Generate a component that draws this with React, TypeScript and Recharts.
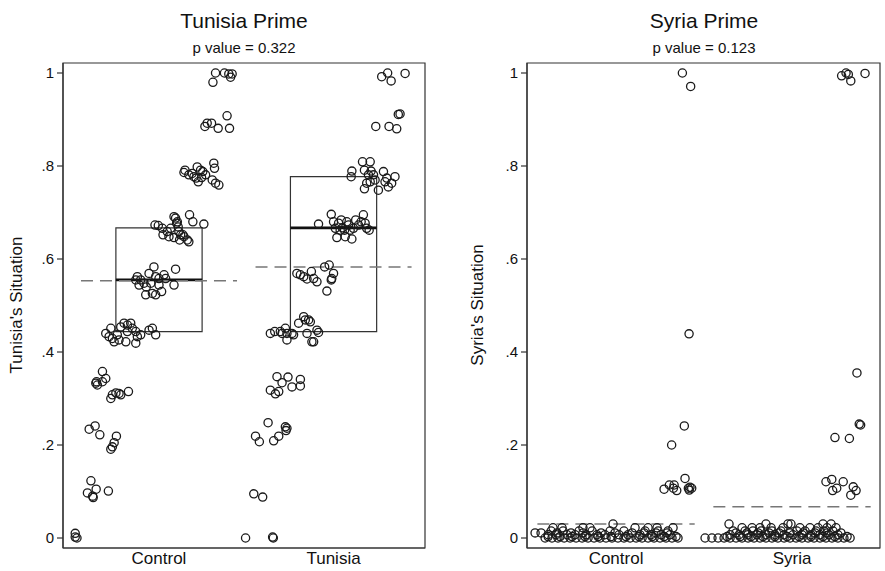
import React from 'react';
import { ScatterChart, Scatter, XAxis, YAxis, ReferenceArea, ReferenceLine } from 'recharts';

// ---------- Tunisia Prime panel ----------
const tunisiaGroups = ['Control', 'Tunisia'];
const tunisiaPValue = '0.322';
// [jitter, value]
const tunisiaControl: [number, number][] = [
  [-0.48, 0.010], [-0.48, 0.002], [-0.47, 0.0],
  [-0.41, 0.097], [-0.39, 0.123], [-0.36, 0.105], [-0.38, 0.090], [-0.377, 0.087], [-0.29, 0.101],
  [-0.40, 0.234], [-0.366, 0.241], [-0.339, 0.222], [-0.276, 0.191], [-0.257, 0.205], [-0.244, 0.219], [-0.267, 0.196],
  [-0.362, 0.333], [-0.353, 0.329], [-0.324, 0.358], [-0.305, 0.343], [-0.324, 0.336], [-0.267, 0.308], [-0.276, 0.300],
  [-0.247, 0.312], [-0.229, 0.311], [-0.219, 0.308], [-0.175, 0.315], [-0.358, 0.336],
  [-0.305, 0.440], [-0.286, 0.433], [-0.276, 0.451], [-0.257, 0.422], [-0.229, 0.426], [-0.200, 0.462], [-0.181, 0.458],
  [-0.162, 0.462], [-0.153, 0.451], [-0.133, 0.444], [-0.105, 0.437], [-0.057, 0.447], [-0.038, 0.451], [-0.019, 0.437],
  [-0.190, 0.422], [-0.133, 0.419], [-0.219, 0.454], [-0.181, 0.444], [-0.239, 0.437], [-0.267, 0.429], [-0.124, 0.433],
  [-0.124, 0.562], [-0.105, 0.555], [-0.086, 0.548], [-0.073, 0.540], [-0.057, 0.569], [-0.029, 0.583], [-0.019, 0.562],
  [0.0, 0.558], [0.029, 0.566], [0.095, 0.578], [0.086, 0.544], [-0.076, 0.523], [-0.038, 0.526], [-0.019, 0.523],
  [0.015, 0.530], [-0.114, 0.544], [-0.047, 0.548], [0.0, 0.544], [0.038, 0.558], [-0.133, 0.555],
  [-0.023, 0.673], [-0.004, 0.672], [0.019, 0.666], [0.047, 0.659], [0.067, 0.666], [0.086, 0.691], [0.095, 0.688],
  [0.105, 0.680], [0.110, 0.669], [0.114, 0.659], [0.124, 0.652], [0.143, 0.648], [0.162, 0.641], [0.171, 0.637],
  [0.175, 0.695], [0.194, 0.680], [0.257, 0.675], [0.057, 0.648], [0.086, 0.646], [0.118, 0.641], [0.137, 0.652],
  [0.023, 0.652], [0.101, 0.677],
  [0.149, 0.791], [0.143, 0.786], [0.190, 0.784], [0.219, 0.798], [0.238, 0.791], [0.251, 0.788], [0.267, 0.781],
  [0.314, 0.806], [0.318, 0.795], [0.305, 0.770], [0.324, 0.763], [0.343, 0.759], [0.213, 0.774], [0.225, 0.766],
  [0.200, 0.777], [0.171, 0.781], [0.244, 0.775],
  [0.263, 0.885], [0.276, 0.892], [0.301, 0.892], [0.339, 0.881], [0.390, 0.908], [0.404, 0.881],
  [0.324, 1.0], [0.375, 1.0], [0.400, 0.998], [0.419, 0.998], [0.410, 0.991], [0.309, 0.980],
];
const tunisiaTreat: [number, number][] = [
  [-0.504, 0.0], [-0.349, 0.002], [-0.345, 0.0],
  [-0.457, 0.095], [-0.406, 0.088],
  [-0.375, 0.248], [-0.447, 0.219], [-0.425, 0.207], [-0.343, 0.209], [-0.314, 0.219], [-0.276, 0.239], [-0.272, 0.231], [-0.267, 0.236],
  [-0.324, 0.347], [-0.295, 0.334], [-0.261, 0.346], [-0.238, 0.325], [-0.190, 0.341], [-0.190, 0.327], [-0.362, 0.318],
  [-0.333, 0.310], [-0.314, 0.315],
  [-0.362, 0.440], [-0.337, 0.444], [-0.305, 0.444], [-0.276, 0.451], [-0.267, 0.440], [-0.267, 0.426], [-0.238, 0.440],
  [-0.200, 0.462], [-0.171, 0.476], [-0.162, 0.469], [-0.143, 0.469], [-0.133, 0.465], [-0.152, 0.440], [-0.124, 0.422],
  [-0.114, 0.422], [-0.095, 0.447], [-0.086, 0.442], [-0.229, 0.437], [-0.295, 0.440],
  [-0.210, 0.569], [-0.190, 0.566], [-0.171, 0.562], [-0.152, 0.557], [-0.127, 0.573], [-0.114, 0.558], [-0.095, 0.551],
  [-0.051, 0.583], [-0.025, 0.587], [-0.010, 0.558], [0.0, 0.569], [-0.013, 0.555], [-0.038, 0.531],
  [-0.086, 0.675], [-0.013, 0.696], [0.0, 0.680], [0.010, 0.666], [0.019, 0.646], [0.029, 0.677], [0.044, 0.684],
  [0.051, 0.667], [0.067, 0.648], [0.076, 0.680], [0.086, 0.673], [0.105, 0.643], [0.114, 0.666], [0.127, 0.684],
  [0.143, 0.673], [0.158, 0.680], [0.171, 0.695], [0.181, 0.677], [0.190, 0.666], [0.204, 0.662], [0.095, 0.662],
  [0.038, 0.662], [0.063, 0.662],
  [0.105, 0.789], [0.101, 0.777], [0.166, 0.809], [0.177, 0.791], [0.210, 0.809], [0.215, 0.789], [0.229, 0.781],
  [0.238, 0.770], [0.210, 0.766], [0.190, 0.763], [0.177, 0.751], [0.257, 0.748], [0.286, 0.788], [0.305, 0.774],
  [0.314, 0.755], [0.333, 0.763], [0.352, 0.777], [0.295, 0.766], [0.200, 0.781],
  [0.371, 0.911], [0.381, 0.912], [0.242, 0.885], [0.318, 0.885], [0.362, 0.880],
  [0.276, 0.992], [0.310, 1.0], [0.330, 0.983], [0.410, 0.999],
];
const tunisiaQ1 = [0.444, 0.444];
const tunisiaMedian = [0.555, 0.667];
const tunisiaQ3 = [0.667, 0.777];
const tunisiaMean = [0.553, 0.583];

// ---------- Syria Prime panel ----------
const syriaGroups = ['Control', 'Syria'];
const syriaPValue = '0.123';
const syriaControl: [number, number][] = [
  [0.377, 1.0], [0.424, 0.971], [0.415, 0.439], [0.388, 0.241], [0.316, 0.200],
  [0.273, 0.105], [0.303, 0.114], [0.330, 0.114], [0.345, 0.102], [0.392, 0.128], [0.411, 0.107], [0.420, 0.109],
  [0.430, 0.107], [0.416, 0.103], [0.326, 0.107],
  [-0.403, 0], [-0.364, 0], [-0.330, 0], [-0.295, 0], [-0.261, 0], [-0.227, 0], [-0.193, 0], [-0.159, 0], [-0.125, 0],
  [-0.091, 0], [-0.057, 0], [-0.023, 0], [0.011, 0], [0.045, 0], [0.080, 0], [0.114, 0], [0.148, 0], [0.182, 0],
  [0.216, 0], [0.250, 0], [0.284, 0], [0.318, 0], [0.352, 0],
  [-0.386, 0.003], [-0.318, 0.003], [-0.250, 0.003], [-0.176, 0.003], [-0.102, 0.003], [-0.028, 0.003], [0.057, 0.003],
  [0.131, 0.003], [0.205, 0.003], [0.273, 0.003], [0.341, 0.003],
  [-0.386, 0.007], [-0.341, 0.007], [-0.278, 0.007], [-0.233, 0.007], [-0.170, 0.007], [-0.108, 0.007], [-0.063, 0.007],
  [0.017, 0.007], [0.068, 0.007], [0.136, 0.007], [0.199, 0.007], [0.256, 0.007], [0.307, 0.007],
  [-0.426, 0.011], [-0.335, 0.011], [-0.256, 0.011], [-0.188, 0.011], [-0.085, 0.011], [-0.006, 0.011], [0.091, 0.011],
  [0.159, 0.011], [0.227, 0.011], [0.290, 0.011],
  [-0.369, 0.015], [-0.301, 0.015], [-0.210, 0.015], [-0.136, 0.015], [-0.034, 0.015], [0.045, 0.015], [0.165, 0.015],
  [0.239, 0.015], [0.295, 0.015],
  [-0.358, 0.022], [-0.307, 0.022], [-0.188, 0.022], [-0.148, 0.022], [0.108, 0.022], [0.182, 0.022], [0.233, 0.022],
  [0.324, 0.022], [-0.017, 0.030], [-0.460, 0.011],
];
const syriaTreat: [number, number][] = [
  [0.282, 0.994], [0.307, 1.0], [0.320, 0.997], [0.334, 0.983], [0.415, 0.999],
  [0.369, 0.355], [0.382, 0.245], [0.390, 0.243], [0.244, 0.216], [0.326, 0.214],
  [0.193, 0.121], [0.226, 0.126], [0.254, 0.107], [0.231, 0.102], [0.291, 0.121], [0.348, 0.110], [0.364, 0.102], [0.334, 0.092],
  [-0.494, 0], [-0.455, 0], [-0.420, 0], [-0.386, 0], [-0.352, 0], [-0.318, 0], [-0.284, 0], [-0.250, 0], [-0.216, 0],
  [-0.182, 0], [-0.148, 0], [-0.114, 0], [-0.080, 0], [-0.045, 0], [-0.011, 0], [0.023, 0], [0.057, 0], [0.091, 0],
  [0.125, 0], [0.159, 0], [0.193, 0], [0.227, 0], [0.261, 0], [0.295, 0], [0.330, 0],
  [-0.369, 0.003], [-0.295, 0.003], [-0.233, 0.003], [-0.165, 0.003], [-0.097, 0.003], [-0.028, 0.003], [0.040, 0.003],
  [0.108, 0.003], [0.176, 0.003], [0.244, 0.003], [0.313, 0.003],
  [-0.352, 0.007], [-0.301, 0.007], [-0.250, 0.007], [-0.199, 0.007], [-0.148, 0.007], [-0.097, 0.007], [-0.045, 0.007],
  [0.006, 0.007], [0.057, 0.007], [0.108, 0.007], [0.159, 0.007], [0.210, 0.007], [0.261, 0.007],
  [-0.318, 0.011], [-0.256, 0.011], [-0.193, 0.011], [-0.131, 0.011], [-0.074, 0.011], [-0.011, 0.011], [0.063, 0.011],
  [0.131, 0.011], [0.199, 0.011], [0.278, 0.011],
  [-0.335, 0.015], [-0.267, 0.015], [-0.222, 0.015], [-0.176, 0.015], [-0.114, 0.015], [-0.063, 0.015], [0.028, 0.015],
  [0.074, 0.015], [0.136, 0.015], [0.182, 0.015], [0.233, 0.015],
  [-0.284, 0.022], [-0.227, 0.022], [-0.182, 0.022], [-0.119, 0.022], [-0.051, 0.022], [0.045, 0.022], [0.102, 0.022],
  [0.148, 0.022], [0.199, 0.022], [0.250, 0.022],
  [-0.358, 0.030], [-0.148, 0.030], [-0.023, 0.030], [-0.006, 0.030], [0.176, 0.030], [0.222, 0.030],
];
const syriaMean = [0.030, 0.067];

const yTicks = [0, 0.2, 0.4, 0.6, 0.8, 1];

const FONT = '"Liberation Sans", Arial, Helvetica, sans-serif';
const Y_DOMAIN: [number, number] = [-0.0215, 1.0215];
const BOX_HALF = 0.247;
const MEAN_HALF = 0.447;

const fmtY = (v: number) => (v === 0 ? '0' : v === 1 ? '1' : String(Number(v.toFixed(1))).replace(/^0/, ''));

const toPoints = (arr: [number, number][], pos: number) => arr.map(([j, v]) => ({ x: pos + j, y: v }));

const Ring = (p: any) => (
  <circle cx={p.cx} cy={p.cy} r={4.1} fill="none" stroke="#1a1a1a" strokeWidth={1.3} />
);

type PanelProps = {
  left: number;
  width: number;
  marginLeft: number;
  marginRight: number;
  xDomain: [number, number];
  groups: string[];
  control: [number, number][];
  treat: [number, number][];
  mean: number[];
  q1?: number[];
  median?: number[];
  q3?: number[];
};

function Panel(props: PanelProps) {
  const { xDomain, groups } = props;
  const pos = [1, 2];
  return (
    <div style={{ position: 'absolute', left: props.left, top: 0 }}>
      <ScatterChart
        width={props.width}
        height={571}
        margin={{ top: 63, right: props.marginRight, bottom: 0, left: props.marginLeft }}
      >
        <XAxis
          type="number"
          dataKey="x"
          domain={xDomain}
          ticks={pos}
          allowDataOverflow
          tickFormatter={(v: number) => groups[Math.round(v) - 1]}
          tickLine={false}
          tickSize={0}
          tickMargin={4}
          height={23}
          axisLine={{ stroke: '#333', strokeWidth: 1.2 }}
          tick={{ fill: '#111', fontSize: 17, fontFamily: FONT }}
        />
        <YAxis
          type="number"
          dataKey="y"
          domain={Y_DOMAIN}
          ticks={yTicks}
          allowDataOverflow
          tickFormatter={fmtY}
          width={63}
          tickSize={6}
          tickMargin={3}
          axisLine={{ stroke: '#333', strokeWidth: 1.2 }}
          tickLine={{ stroke: '#333', strokeWidth: 1.2 }}
          tick={{ fill: '#111', fontSize: 15, fontFamily: FONT }}
        />
        <ReferenceArea
          x1={xDomain[0]}
          x2={xDomain[1]}
          y1={Y_DOMAIN[0]}
          y2={Y_DOMAIN[1]}
          fill="none"
          stroke="#333"
          strokeWidth={1.2}
          ifOverflow="visible"
        />
        {props.q1 &&
          pos.map((p, i) => (
            <ReferenceArea
              key={'box' + i}
              x1={p - BOX_HALF}
              x2={p + BOX_HALF}
              y1={props.q1![i]}
              y2={props.q3![i]}
              fill="none"
              stroke="#333"
              strokeWidth={1.2}
            />
          ))}
        {props.median &&
          pos.map((p, i) => (
            <ReferenceLine
              key={'med' + i}
              segment={[
                { x: p - BOX_HALF, y: props.median![i] },
                { x: p + BOX_HALF, y: props.median![i] },
              ]}
              stroke="#111"
              strokeWidth={2.6}
            />
          ))}
        {pos.map((p, i) => (
          <ReferenceLine
            key={'mean' + i}
            segment={[
              { x: p - MEAN_HALF, y: props.mean[i] },
              { x: p + MEAN_HALF, y: props.mean[i] },
            ]}
            stroke="#777"
            strokeWidth={1.5}
            strokeDasharray="12 7"
          />
        ))}
        <Scatter data={toPoints(props.control, 1)} shape={Ring} isAnimationActive={false} />
        <Scatter data={toPoints(props.treat, 2)} shape={Ring} isAnimationActive={false} />
      </ScatterChart>
    </div>
  );
}

const titleStyle = (cx: number, top: number, size: number): React.CSSProperties => ({
  position: 'absolute',
  left: cx - 150,
  width: 300,
  top,
  textAlign: 'center',
  fontFamily: FONT,
  fontSize: size,
  color: '#111',
  lineHeight: 1,
  whiteSpace: 'nowrap',
});

const yLabelStyle = (cx: number, cy: number): React.CSSProperties => ({
  position: 'absolute',
  left: cx - 150,
  top: cy - 9,
  width: 300,
  height: 18,
  lineHeight: '18px',
  textAlign: 'center',
  fontFamily: FONT,
  fontSize: 17,
  color: '#111',
  transform: 'rotate(-90deg)',
  whiteSpace: 'nowrap',
});

export default function App() {
  return (
    <div style={{ position: 'absolute', left: 0, top: 0, width: 885, height: 571, background: '#fff', overflow: 'hidden' }}>
      <Panel
        left={0}
        width={450}
        marginLeft={0}
        marginRight={25}
        xDomain={[0.45, 2.524]}
        groups={tunisiaGroups}
        control={tunisiaControl}
        treat={tunisiaTreat}
        mean={tunisiaMean}
        q1={tunisiaQ1}
        median={tunisiaMedian}
        q3={tunisiaQ3}
      />
      <Panel
        left={440}
        width={445}
        marginLeft={24}
        marginRight={5}
        xDomain={[0.494, 2.5]}
        groups={syriaGroups}
        control={syriaControl}
        treat={syriaTreat}
        mean={syriaMean}
      />
      <div style={titleStyle(244, 10, 21)}>Tunisia Prime</div>
      <div style={titleStyle(244, 40, 15)}>p value = {tunisiaPValue}</div>
      <div style={titleStyle(704, 10, 21)}>Syria Prime</div>
      <div style={titleStyle(704, 40, 15)}>p value = {syriaPValue}</div>
      <div style={yLabelStyle(17, 305)}>Tunisia's Situation</div>
      <div style={yLabelStyle(478, 305)}>Syria's Situation</div>
    </div>
  );
}
